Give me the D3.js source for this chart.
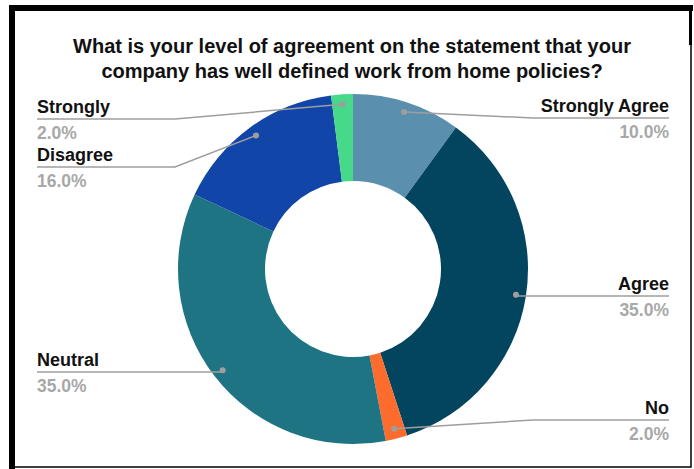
<!DOCTYPE html>
<html>
<head>
<meta charset="utf-8">
<script src="https://cdn.jsdelivr.net/npm/d3@7"></script>
<style>
  html, body { margin: 0; padding: 0; background: #fff; }
  svg { display: block; }
</style>
</head>
<body>
<svg id="chart" width="694" height="469"></svg>
<script>
// Survey responses, clockwise from 12 o'clock
const categories = ["Strongly Agree", "Agree", "No", "Neutral", "Disagree", "Strongly"];
const shares = [10, 35, 2, 35, 16, 2];
const colors = ["#5a90ad", "#03455f", "#fd6c2d", "#1e7483", "#1245a8", "#47d98a"];
const titleLines = [
  "What is your level of agreement on the statement that your",
  "company has well defined work from home policies?"
];

// Label placement: side of the chart and y of the leader underline
const labelLayout = {
  "Strongly Agree": { side: "right", y: 118 },
  "Agree":          { side: "right", y: 296 },
  "No":             { side: "right", y: 420 },
  "Neutral":        { side: "left",  y: 372 },
  "Disagree":       { side: "left",  y: 167 },
  "Strongly":       { side: "left",  y: 119 }
};

const W = 694, H = 469;
const cx = 353, cy = 269, rOuter = 175, rInner = 88;
const leftX = 37, rightX = 669, leftElbow = 175, rightElbow = 533;
const font = "'Liberation Sans', Arial, sans-serif";

const svg = d3.select("#chart");

// Frame
svg.append("rect").attr("x", 12).attr("y", 8).attr("width", 679).attr("height", 459)
  .attr("fill", "#fff").attr("stroke", "#000").attr("stroke-width", 1.5);
svg.append("rect").attr("x", 9).attr("y", 5).attr("width", 6).attr("height", 464).attr("fill", "#000");
svg.append("rect").attr("x", 9).attr("y", 5).attr("width", 684).attr("height", 6).attr("fill", "#000");
svg.append("rect").attr("x", 689).attr("y", 5).attr("width", 3).attr("height", 40).attr("fill", "#000");

// Title
svg.append("g").selectAll("text").data(titleLines).join("text")
  .attr("x", 352).attr("y", (d, i) => 53 + i * 25)
  .attr("text-anchor", "middle")
  .attr("font-family", font)
  .attr("font-weight", "bold").attr("font-size", 20).attr("fill", "#111")
  .text(d => d);

const data = categories.map((c, i) => ({ name: c, value: shares[i], color: colors[i] }));
const total = d3.sum(shares);

const pie = d3.pie().value(d => d.value).sort(null);
const arcs = pie(data);
const arc = d3.arc().innerRadius(rInner).outerRadius(rOuter);
const dotArc = d3.arc().innerRadius(165).outerRadius(165);

const g = svg.append("g").attr("transform", `translate(${cx},${cy})`);
g.selectAll("path").data(arcs).join("path")
  .attr("d", arc).attr("fill", d => d.data.color);

// Leader lines, dots and labels
const fmt = d3.format(".1f");
const labels = svg.append("g");
arcs.forEach(a => {
  const lay = labelLayout[a.data.name];
  const [dx, dy] = dotArc.centroid(a);
  const px = cx + dx, py = cy + dy;
  const right = lay.side === "right";
  const textX = right ? rightX : leftX;
  let elbow = right ? Math.max(rightElbow, px) : Math.min(leftElbow, px);
  if (Math.abs(py - lay.y) < 2) elbow = px;
  labels.append("polyline")
    .attr("points", [[textX, lay.y], [elbow, lay.y], [px, py]].map(p => p.join(",")).join(" "))
    .attr("fill", "none").attr("stroke", "#9e9e9e").attr("stroke-width", 1.5);
  labels.append("circle").attr("cx", px).attr("cy", py).attr("r", 3).attr("fill", "#9e9e9e");
  labels.append("text")
    .attr("x", textX).attr("y", lay.y - 6)
    .attr("text-anchor", right ? "end" : "start")
    .attr("font-family", font)
    .attr("font-weight", "bold").attr("font-size", 18).attr("fill", "#111")
    .text(a.data.name);
  labels.append("text")
    .attr("x", textX).attr("y", lay.y + 20)
    .attr("text-anchor", right ? "end" : "start")
    .attr("font-family", font)
    .attr("font-weight", "bold").attr("font-size", 17.5).attr("fill", "#a8a8a8")
    .text(fmt(a.data.value / total * 100) + "%");
});
</script>
</body>
</html>
